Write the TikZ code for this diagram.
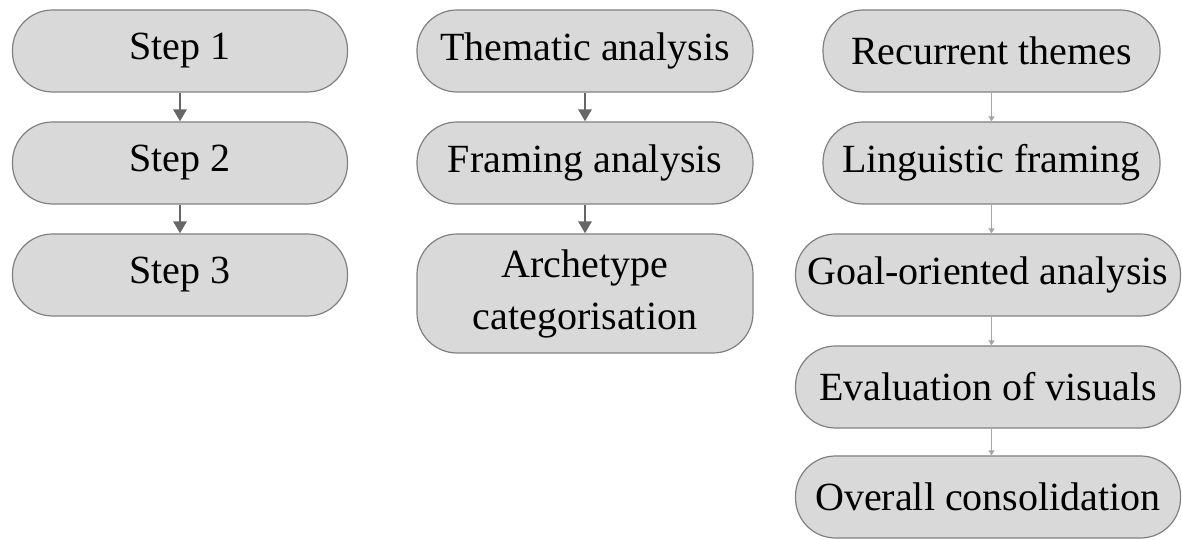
\documentclass[tikz,border=0pt]{standalone}
\usepackage{fontspec}
\setmainfont{Liberation Serif}
\usetikzlibrary{arrows.meta}
\tikzset{
  stagebox/.style={draw=black!50, fill=black!15, line width=1.2pt, rounded corners=40pt,
    minimum height=82pt, inner sep=0pt, align=center, font=\fontsize{40}{52}\selectfont},
  boldarrow/.style={draw=black!60, line width=2.6pt, -{Triangle[length=12pt,width=13pt]}},
  thinarrow/.style={draw=black!35, line width=1.1pt, -{Triangle[length=5pt,width=6pt]}}
}
\begin{document}
\begin{tikzpicture}[x=1pt, y=1pt]
      \useasboundingbox (0,0) rectangle (1182,540);
      % steps
      \node[stagebox, minimum width=335pt] (s1) at (180,489) {Step 1};
      \node[stagebox, minimum width=335pt] (s2) at (180,377) {Step 2};
      \node[stagebox, minimum width=335pt] (s3) at (180,265) {Step 3};
      % methods
      \node[stagebox, minimum width=336pt] (thematic) at (585,489) {Thematic analysis};
      \node[stagebox, minimum width=336pt] (framing) at (585,377) {Framing analysis};
      \node[stagebox, minimum width=336pt, minimum height=119pt] (archetype) at (585,246.5) {Archetype\\categorisation};
      % detailed procedure
      \node[stagebox, minimum width=337pt] (themes) at (991.5,489) {Recurrent themes};
      \node[stagebox, minimum width=337pt] (linguistic) at (991.5,377) {Linguistic framing};
      \node[stagebox, minimum width=385pt] (goal) at (988,265) {Goal-oriented analysis};
      \node[stagebox, minimum width=385pt] (visuals) at (988,153) {Evaluation of visuals};
      \node[stagebox, minimum width=385pt] (overall) at (988,43) {Overall consolidation};
      \draw[boldarrow] (s1) -- (s2);
      \draw[boldarrow] (s2) -- (s3);
      \draw[boldarrow] (thematic) -- (framing);
      \draw[boldarrow] (framing) -- (archetype);
      \draw[thinarrow] (themes.south) -- (themes.south |- linguistic.north);
      \draw[thinarrow] (linguistic.south) -- (linguistic.south |- goal.north);
      \draw[thinarrow] (themes.south |- goal.south) -- (themes.south |- visuals.north);
      \draw[thinarrow] (themes.south |- visuals.south) -- (themes.south |- overall.north);
    \end{tikzpicture}
\end{document}
